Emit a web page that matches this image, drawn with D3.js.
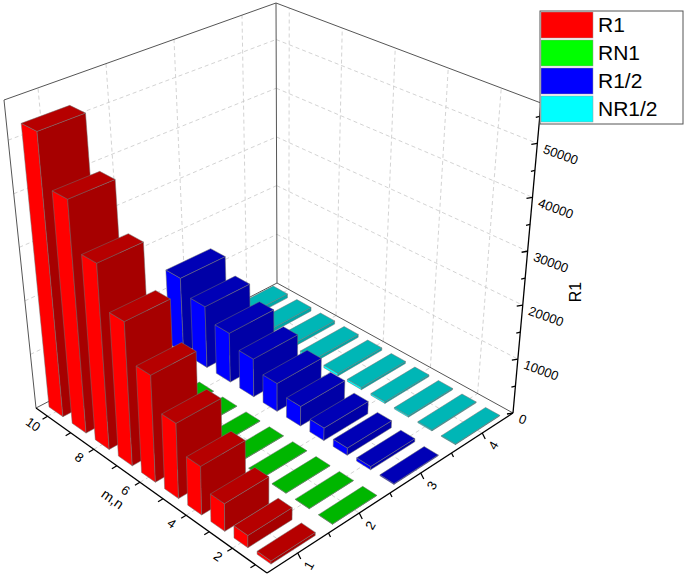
<!DOCTYPE html>
<html><head><meta charset="utf-8">
<script src="https://cdn.jsdelivr.net/npm/d3@7"></script>
<style>body{margin:0;background:#fff}</style></head>
<body><svg id="c" width="685" height="579"></svg>
<script>
const mn = [1,2,3,4,5,6,7,8,9,10];
const seriesNames = ["R1","RN1","R1/2","NR1/2"];
const seriesIdx = [1,2,3,4];
const R1    = [530,2100,4800,8500,13300,19100,26000,33900,43000,53000];
const RN1   = [60,60,70,70,80,80,90,90,100,100];
const R12   = [150,580,1300,2300,3600,5200,7100,9300,11700,14500];
const NR12  = [120,180,250,320,400,480,560,640,720,800];
const zTicks = [0,10000,20000,30000,40000,50000];
const mTickLabels = [2,4,6,8,10];
const colors = ["#ff0000","#00ff00","#0000ff","#00ffff"];
const values = [R1,RN1,R12,NR12];

const zmax = 57500;
const fa = d3.scaleLinear().domain([10.5,0.5]).range([0,1]);
const fb = d3.scaleLinear().domain([0.5,4.5]).range([0,1]);
const fc = d3.scaleLinear().domain([0,zmax]).range([0,1]);
// box corners (floor / top)
const A=[36,408],B=[267,573],C=[513,413],D=[277,283];
const At=[4,100],Bt=[270,233],Ct=[541,103],Dt=[276,3];
function bil(p,q,r,s,a,b){return [0,1].map(i=>(1-a)*(1-b)*p[i]+a*(1-b)*q[i]+a*b*r[i]+(1-a)*b*s[i]);}
function P(u,s,w){const a=fa(u),b=fb(s),c=fc(w);
  const lo=bil(A,B,C,D,a,b),hi=bil(At,Bt,Ct,Dt,a,b);
  return [lo[0]+(hi[0]-lo[0])*c, lo[1]+(hi[1]-lo[1])*c];}
const svg=d3.select("#c");
const line=d3.line();
const g=svg.append("g");
function seg(p,q,opt){g.append("path").attr("d",line([p,q])).attr("fill","none")
  .attr("stroke",opt.c||"#000").attr("stroke-width",opt.w||1).attr("stroke-dasharray",opt.d||null);}
const dash={c:"#c8c8c8",w:0.8,d:"4,3"};
// wall grids
zTicks.slice(1).forEach(z=>{seg(P(10.5,0.5,z),P(10.5,4.5,z),dash);seg(P(10.5,4.5,z),P(0.5,4.5,z),dash);});
seriesIdx.forEach(s=>{seg(P(10.5,s,0),P(10.5,s,zmax),dash);seg(P(10.5,s,0),P(0.5,s,0),dash);});
mTickLabels.forEach(u=>{seg(P(u,4.5,0),P(u,4.5,zmax),dash);seg(P(u,0.5,0),P(u,4.5,0),dash);});
// box frame
const fr={c:"#555",w:1};
seg(A,At,fr);seg(D,Dt,fr);seg(At,Dt,fr);seg(Dt,Ct,fr);seg(A,D,fr);seg(D,C,fr);
// bars
const bars=[];
seriesIdx.forEach((s,si)=>mn.forEach((m,mi)=>bars.push({s,m,v:values[si][mi],col:colors[si]})));
bars.sort((x,y)=>y.s-x.s||y.m-x.m);
const hu=0.3,hs=0.36;
bars.forEach(b=>{
  const u0=b.m-hu,u1=b.m+hu,s0=b.s-hs,s1=b.s+hs,v=b.v;
  const base=d3.color(b.col);
  const poly=(pts,fill)=>g.append("path").attr("d",line(pts)+"Z").attr("fill",fill)
    .attr("stroke","#707070").attr("stroke-width",0.5);
  poly([P(u1,s0,0),P(u0,s0,0),P(u0,s0,v),P(u1,s0,v)],base.formatHex());
  poly([P(u0,s0,0),P(u0,s1,0),P(u0,s1,v),P(u0,s0,v)],base.darker(1.2).formatHex());
  poly([P(u0,s0,v),P(u0,s1,v),P(u1,s1,v),P(u1,s0,v)],base.darker(0.95).formatHex());
});
// axes
const ax={c:"#000",w:1.3};
seg(A,B,ax);seg(B,C,ax);seg(C,Ct,ax);
const txt=(x,y,t,rot,size,anchor)=>svg.append("text").attr("transform",`translate(${x},${y}) rotate(${rot})`)
  .attr("font-family","Liberation Sans, Arial, sans-serif").attr("font-size",size).attr("text-anchor",anchor||"middle")
  .attr("dominant-baseline","middle").text(t);
mn.forEach(m=>{const p=P(m,0.5,0);seg(p,[p[0]-5,p[1]+3],ax);});
mTickLabels.forEach(m=>{const p=P(m,0.5,0);txt(p[0]-15,p[1]+9,m,35,13);});
txt(112,500,"m,n",35,14);
seriesIdx.forEach(s=>{const p=P(0.5,s,0);seg(p,[p[0]+3,p[1]+6],ax);txt(p[0]+12,p[1]+13,s,-60,13);});
[1.5,2.5,3.5].forEach(s=>{const p=P(0.5,s,0);seg(p,[p[0]+2,p[1]+4],ax);});
d3.range(0,zmax,5000).forEach(z=>{const p=P(0.5,4.5,z);const big=z%10000===0;
  seg(p,[p[0]-(big?6:4),p[1]+(big?1:1)],ax);
  if(big) txt(p[0]+6,p[1]+6,z,20,13,"start");});
txt(577,292,"R1",-90,16);
// legend
const lg=svg.append("g").attr("transform","translate(540,11)");
lg.append("rect").attr("x",0).attr("y",0).attr("width",143).attr("height",113).attr("fill","#fff").attr("stroke","#555");
seriesNames.forEach((n,i)=>{
  lg.append("rect").attr("x",1).attr("y",1+i*28).attr("width",52).attr("height",26).attr("fill",colors[i]).attr("stroke","#999").attr("stroke-width",0.5);
  lg.append("text").attr("x",58).attr("y",15+i*28).attr("dominant-baseline","middle")
    .attr("font-family","Liberation Sans, Arial, sans-serif").attr("font-size",21).text(n);
});
</script></body></html>
